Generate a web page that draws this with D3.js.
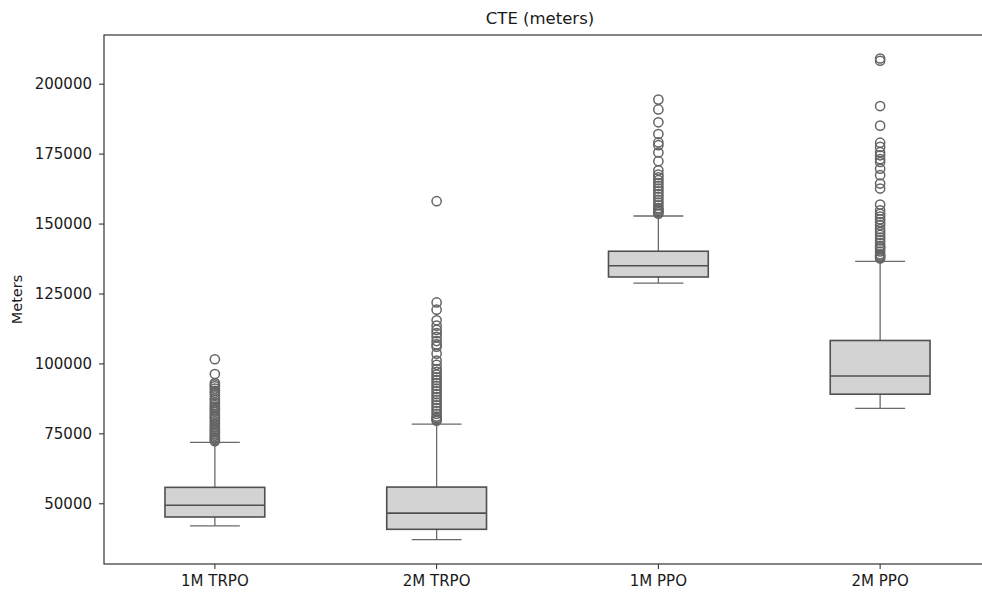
<!DOCTYPE html>
<html>
<head>
<meta charset="utf-8">
<script src="https://cdn.jsdelivr.net/npm/d3@7"></script>
<style>
  body { margin: 0; background: #fff; }
  svg { display: block; font-family: "DejaVu Sans", sans-serif; }
</style>
</head>
<body>
<svg></svg>
<script>
// categories and box statistics (meters)
var categories = ["1M TRPO", "2M TRPO", "1M PPO", "2M PPO"];
var whiskerLow  = [41900, 37000, 128700, 83900];
var q1          = [45100, 40700, 130900, 89000];
var median      = [49300, 46500, 134900, 95500];
var q3          = [55700, 55800, 140100, 108200];
var whiskerHigh = [71800, 78300, 152700, 136500];

// outliers per category
var outliers1MTRPO = [101500, 96200, 93000, 92400, 91800, 91000, 90200, 89500, 88700, 87500, 86900,
  86000, 85200, 84600, 84000, 83400, 82800, 82000, 81300, 80700, 80000, 79300, 78600, 78000,
  77300, 76600, 76000, 75400, 74800, 74200, 73600, 73100, 72600, 72200];
var outliers2MTRPO = [158000, 121800, 119200, 115400, 113500, 112000, 110800, 109500, 108000,
  106800, 106000, 103500, 101000, 99500, 98000, 97000, 96000, 95000, 94000, 93000, 92000, 91000,
  90000, 89000, 88000, 87000, 86000, 85000, 84000, 83000, 82000, 81000, 80500, 80000, 79500];
var outliers1MPPO = [194300, 190800, 186200, 182000, 179000, 178000, 175400, 172300, 169000, 167500,
  166500, 165500, 164500, 163500, 162500, 161500, 160500, 159500, 158500, 157500, 156500, 155500,
  155000, 154500, 154000, 153500];
var outliers2MPPO = [209000, 208200, 192000, 185000, 178900, 177400, 175500, 174400, 173000, 172000,
  169600, 167300, 164300, 162500, 156800, 154700, 153500, 152500, 151500, 150500, 149500, 148000,
  147000, 146000, 145000, 144000, 143000, 142000, 141500, 141000, 140000, 139000, 138500, 138000, 137500];
var outliers = [outliers1MTRPO, outliers2MTRPO, outliers1MPPO, outliers2MPPO];

var yTicks = [50000, 75000, 100000, 125000, 150000, 175000, 200000];

var svgWidth = 982, svgHeight = 596;
var margin = {top: 35, left: 104},
    plotRight = 991, plotBottom = 564;

var svg = d3.select("svg").attr("width", svgWidth).attr("height", svgHeight);

var xScale = d3.scaleBand().domain(categories).range([margin.left, plotRight]).padding(0);
var yScale = d3.scaleLinear().domain([28300, 217400]).range([plotBottom, margin.top]);

var boxW = xScale.bandwidth() * 0.45;
var lineColor = "#505050";
var whiskColor = "#6a6a6a";

var stats = categories.map(function(c, i) {
  return {cat: c, lo: whiskerLow[i], q1: q1[i], med: median[i], q3: q3[i], hi: whiskerHigh[i], out: outliers[i]};
});

var g = svg.append("g");

var boxes = g.selectAll(".box").data(stats).enter().append("g")
  .attr("class", "box")
  .attr("transform", function(d) { return "translate(" + (xScale(d.cat) + xScale.bandwidth() / 2) + ",0)"; });

// whiskers
boxes.append("line")
  .attr("x1", 0).attr("x2", 0)
  .attr("y1", function(d) { return yScale(d.q3); })
  .attr("y2", function(d) { return yScale(d.hi); })
  .attr("stroke", whiskColor).attr("stroke-width", 1.3);
boxes.append("line")
  .attr("x1", 0).attr("x2", 0)
  .attr("y1", function(d) { return yScale(d.q1); })
  .attr("y2", function(d) { return yScale(d.lo); })
  .attr("stroke", whiskColor).attr("stroke-width", 1.3);
// caps
boxes.append("line")
  .attr("x1", -boxW / 4).attr("x2", boxW / 4)
  .attr("y1", function(d) { return yScale(d.hi); })
  .attr("y2", function(d) { return yScale(d.hi); })
  .attr("stroke", whiskColor).attr("stroke-width", 1.3);
boxes.append("line")
  .attr("x1", -boxW / 4).attr("x2", boxW / 4)
  .attr("y1", function(d) { return yScale(d.lo); })
  .attr("y2", function(d) { return yScale(d.lo); })
  .attr("stroke", whiskColor).attr("stroke-width", 1.3);

// box
boxes.append("rect")
  .attr("x", -boxW / 2)
  .attr("width", boxW)
  .attr("y", function(d) { return yScale(d.q3); })
  .attr("height", function(d) { return yScale(d.q1) - yScale(d.q3); })
  .attr("fill", "#d3d3d3")
  .attr("stroke", lineColor).attr("stroke-width", 1.6);

// median
boxes.append("line")
  .attr("x1", -boxW / 2).attr("x2", boxW / 2)
  .attr("y1", function(d) { return yScale(d.med); })
  .attr("y2", function(d) { return yScale(d.med); })
  .attr("stroke", lineColor).attr("stroke-width", 1.6);

// fliers
boxes.selectAll("circle")
  .data(function(d) { return d.out; })
  .enter().append("circle")
  .attr("cx", 0)
  .attr("cy", function(d) { return yScale(d); })
  .attr("r", 4.6)
  .attr("fill", "none")
  .attr("stroke", "#646464")
  .attr("stroke-width", 1.5);

// axes
var xAxis = d3.axisBottom(xScale).tickSize(5).tickPadding(6).tickSizeOuter(0);
var yAxis = d3.axisLeft(yScale).tickValues(yTicks).tickFormat(d3.format("d")).tickSize(5).tickPadding(7).tickSizeOuter(0);

var xg = svg.append("g").attr("transform", "translate(0," + plotBottom + ")").call(xAxis);
var yg = svg.append("g").attr("transform", "translate(" + margin.left + ",0)").call(yAxis);
[xg, yg].forEach(function(a) {
  a.selectAll("text").style("font-size", "15px").style("font-family", "DejaVu Sans").attr("fill", "#1a1a1a");
  a.selectAll("line").attr("stroke", "#222");
  a.select(".domain").remove();
});

// spines
svg.append("rect")
  .attr("x", margin.left).attr("y", margin.top)
  .attr("width", plotRight - margin.left).attr("height", plotBottom - margin.top)
  .attr("fill", "none").attr("stroke", "#333").attr("stroke-width", 1.2);

// title and y label
svg.append("text")
  .attr("x", 540).attr("y", 24)
  .attr("text-anchor", "middle")
  .style("font-size", "16.5px").attr("fill", "#1a1a1a")
  .text("CTE (meters)");

svg.append("text")
  .attr("transform", "translate(22," + ((margin.top + plotBottom) / 2) + ") rotate(-90)")
  .attr("text-anchor", "middle")
  .style("font-size", "14.5px").attr("fill", "#1a1a1a")
  .text("Meters");
</script>
</body>
</html>
